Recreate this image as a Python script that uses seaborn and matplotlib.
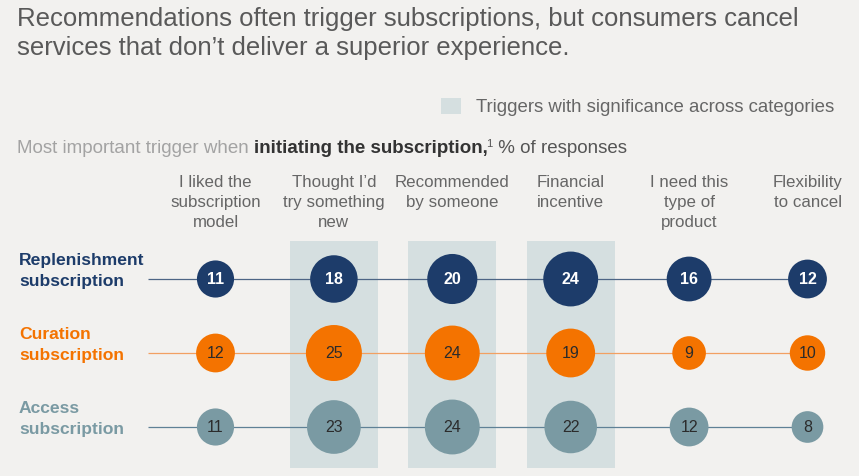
import numpy as np
import pandas as pd
import matplotlib
matplotlib.use("Agg")
import matplotlib.pyplot as plt
import matplotlib.transforms as mtransforms
from matplotlib.patches import Rectangle
import seaborn as sns

# ---------------- data ----------------
triggers = ["I liked the\nsubscription\nmodel", "Thought I\u2019d\ntry something\nnew",
            "Recommended\nby someone", "Financial\nincentive",
            "I need this\ntype of\nproduct", "Flexibility\nto cancel"]
trigger_keys = ["liked", "try", "recommended", "financial", "need", "flexibility"]
series = ["Replenishment\nsubscription", "Curation\nsubscription", "Access\nsubscription"]
replenishment = [11, 18, 20, 24, 16, 12]
curation = [12, 25, 24, 19, 9, 10]
access = [11, 23, 24, 22, 12, 8]
significant = [False, True, True, True, False, False]

title = "Recommendations often trigger subscriptions, but consumers cancel\nservices that don\u2019t deliver a superior experience."
legend_label = "Triggers with significance across categories"

# ---------------- style ----------------
BG = "#f2f1ef"
BAND = "#d5dfe0"
COLORS = ["#1d3c6a", "#f47300", "#7a9aa3"]
LINE_COLORS = ["#4d6585", "#f2a062", "#5f8196"]
NUM_COLORS = ["white", "#2b2b2b", "#2b2b2b"]
NUM_WEIGHTS = ["bold", "normal", "normal"]
FONT = "Liberation Sans"

W, H = 859, 477
sns.set_theme(style="white")
plt.rcParams["font.family"] = [FONT, "DejaVu Sans"]

fig = plt.figure(figsize=(W / 100, H / 100), dpi=100, facecolor=BG)
ax = fig.add_axes([0, 0, 1, 1])
ax.set_facecolor(BG)

# pixel layout -> data mapping
x0_px, dx_px = 215.5, 118.4
y0_px, dy_px = 280.0, 74.0

def fx(px):
    return px / W

def fy(py):
    return 1 - py / H

# long-form table
vals = [replenishment, curation, access]
df = pd.DataFrame({
    "trigger": np.tile(trigger_keys, len(series)),
    "series": np.repeat(series, len(trigger_keys)),
    "value": np.concatenate(vals),
})

# significance bands
half = 44 / dx_px
for i, sig in enumerate(significant):
    if sig:
        ax.axvspan(i - half, i + half, ymin=fy(469), ymax=fy(242), color=BAND, lw=0, zorder=0)

# connecting lines
x_line_start = (148 - x0_px) / dx_px
for r, s in enumerate(series):
    ax.hlines(r, x_line_start, len(trigger_keys) - 1, color=LINE_COLORS[r], lw=0.9, zorder=1)

sns.scatterplot(data=df, x="trigger", y="series", hue="series", palette=COLORS,
                size="value", sizes=(0, 1625), size_norm=(0, 25),
                linewidth=0, legend=False, ax=ax, zorder=3)

ax.set_ylim((H - y0_px) / dy_px, -y0_px / dy_px)
ax.set_xlim(-x0_px / dx_px, (W - x0_px) / dx_px)
ax.axis("off")

# numbers in circles
for r, v in enumerate(vals):
    for i, val in enumerate(v):
        ax.text(i, r, str(val), ha="center", va="center", fontsize=11.5,
                color=NUM_COLORS[r], fontweight=NUM_WEIGHTS[r], zorder=4)

# column labels
for i, lab in enumerate(triggers):
    ax.text(i, -105 / dy_px, lab, ha="center", va="top", fontsize=12.2,
            color="#666666", linespacing=1.42)

# row labels
blend = mtransforms.blended_transform_factory(fig.transFigure, ax.transData)
for r, s in enumerate(series):
    ax.text(fx(19), r - 9 / dy_px, s, transform=blend, ha="left", va="center",
            fontsize=12.6, fontweight="bold", color=COLORS[r], linespacing=1.58)

# title
fig.text(fx(17), fy(7), title, ha="left", va="top", fontsize=18.5, color="#595959",
         linespacing=1.27)

# legend
fig.patches.append(Rectangle((fx(441), fy(115)), 20 / W, 16 / H, transform=fig.transFigure,
                             facecolor=BAND, edgecolor="none"))
fig.text(fx(476), fy(107), legend_label, ha="left", va="center", fontsize=13.4, color="#666666")

# subtitle with mixed styles
t1 = fig.text(fx(17), fy(157), "Most important trigger when ", ha="left", va="bottom",
              fontsize=13.5, color="#a3a3a3")
t2 = ax.annotate("initiating the subscription,", xy=(1, 0), xycoords=t1, ha="left",
                 va="bottom", fontsize=13.5, color="#333333", fontweight="bold")
t3 = ax.annotate("1", xy=(1, 1), xycoords=t2, xytext=(-1, 1.0), textcoords="offset points",
                 ha="left", va="top", fontsize=8, color="#555555")
t4 = ax.annotate(" % of responses", xy=(1, 0), xycoords=t2, xytext=(4, 0),
                 textcoords="offset points", ha="left", va="bottom", fontsize=13.5,
                 color="#555555")

fig.savefig("out.png", dpi=100, facecolor=BG)
